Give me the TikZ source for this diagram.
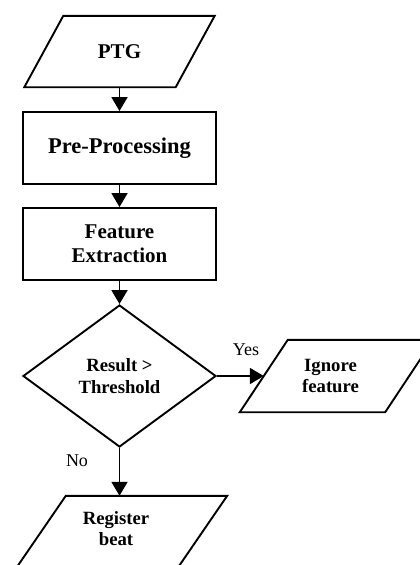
\documentclass[tikz,border=0pt]{standalone}
\usepackage{fontspec}
\setmainfont{Liberation Serif}
\usetikzlibrary{shapes.geometric,arrows.meta}

\tikzset{
  flowshape/.style={line width=1.9pt, fill=white, align=center, inner sep=0pt},
  bigtext/.style={font=\fontsize{21}{24}\selectfont\bfseries},
  smalltext/.style={font=\fontsize{18.7}{21.5}\selectfont\bfseries},
  procbox/.style={flowshape, draw, bigtext, rectangle, minimum width=193pt, minimum height=72pt},
  iotext/.style={inner sep=0pt, align=center, smalltext},
  ioline/.style={draw, line width=1.9pt, fill=white, line join=miter},
  decision/.style={flowshape, draw, smalltext, diamond, aspect=1.36, minimum width=193pt, minimum height=142pt},
  flowline/.style={line width=1.9pt, -{Triangle[length=14pt,width=16pt]}},
  answer/.style={font=\fontsize{18}{21}\selectfont, inner sep=0pt}
}

\begin{document}
\begin{tikzpicture}[x=1pt,y=-1pt]
\useasboundingbox (0,0) rectangle (420,565);
\fill[white] (0,0) rectangle (420,565);
\clip (0,0) rectangle (420,565);

% input
\node[iotext, bigtext, minimum width=151pt, minimum height=71pt] (ptg) at (119.5,51.5) {};
\draw[ioline] ([xshift=-19.5pt]ptg.south west) -- ([xshift=19.5pt]ptg.north west)
  -- ([xshift=19.5pt]ptg.north east) -- ([xshift=-19.5pt]ptg.south east) -- cycle;
\node[bigtext] at (ptg) {PTG};

\node[procbox, font=\fontsize{22.5}{26}\selectfont\bfseries] (prep) at (119.5,148) {Pre-Processing};
\node[procbox] (feat) at (119.5,244) {Feature\\Extraction};
\node[decision] (cmp) at (119.5,376) {Result >\\Threshold};

% outcomes
\node[iotext, minimum width=145pt, minimum height=72pt] (ign) at (336.5,376) {};
\draw[ioline] ([xshift=-24pt]ign.south west) -- ([xshift=24pt]ign.north west)
  -- ([xshift=24pt]ign.north east) -- ([xshift=-24pt]ign.south east) -- cycle;
\node[iotext] at ([xshift=-6pt]ign) {Ignore\\feature};

\node[iotext, minimum width=161pt, minimum height=71pt] (reg) at (122,531.5) {};
\draw[ioline] ([xshift=-24.5pt]reg.south west) -- ([xshift=24.5pt]reg.north west)
  -- ([xshift=24.5pt]reg.north east) -- ([xshift=-24.5pt]reg.south east) -- cycle;
\node[iotext] at ([xshift=-6pt,yshift=3pt]reg) {Register\\beat};

\draw[flowline] (ptg.south) -- (prep.north);
\draw[flowline] (prep) -- (feat);
\draw[flowline] (feat) -- (cmp);
\draw[flowline] (cmp.east) -- (ign.west);
\draw[flowline] (cmp.south) -- (cmp.south |- reg.north);

\node[answer] (yes) at (246,350) {Yes};
\node[answer] (no) at (77,461) {No};
\end{tikzpicture}
\end{document}
